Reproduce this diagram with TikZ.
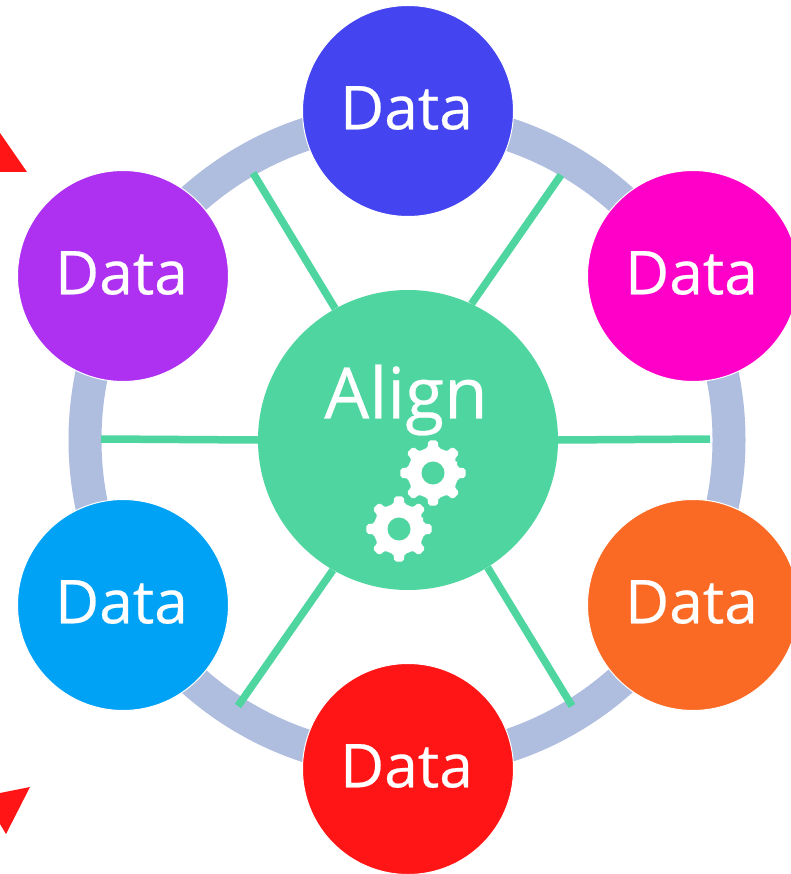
\documentclass[tikz,border=0pt]{standalone}
\usepackage{fontspec}
\setmainfont{Open Sans}
\newfontfamily\labelfont[FakeBold=0.35]{Open Sans}
\definecolor{spokegreen}{HTML}{4FD6A0}
\definecolor{ringblue}{HTML}{AFBDDF}
\definecolor{alertred}{HTML}{FF1515}
\definecolor{dtop}{HTML}{4444F0}
\definecolor{dpink}{HTML}{FF00C8}
\definecolor{dpurple}{HTML}{AE30F0}
\definecolor{dcyan}{HTML}{00A2F5}
\definecolor{dorange}{HTML}{FA6A24}
\tikzset{
  databub/.style={circle,draw=white,line width=1pt,minimum size=211pt,inner sep=0pt},
  datatext/.style={text=white,inner sep=0pt,font=\labelfont\fontsize{60.5}{60.5}\selectfont},
  spoke/.style={draw=spokegreen,line width=7.5pt},
  redtri/.style={fill=alertred},
  gearbody/.pic={
    \fill[white,rounded corners=2pt] (-22.5:26)
      \foreach \a in {0,45,...,315} { -- (\a-13:25) -- (\a-8:33) -- (\a+8:33) -- (\a+13:25) -- (\a+22.5:26) } -- cycle;
    \fill[spokegreen] (0,0) circle (11.5);
  }
}
\begin{document}
\begin{tikzpicture}[x=1pt,y=-1pt]
\useasboundingbox (0,0) rectangle (790,874);
\fill[white] (0,0) rectangle (790,874);
\fill[redtri] (0,133) -- (27,172) -- (0,172) -- cycle;
\fill[redtri] (30,787) -- (6,834) -- (0,824) -- (0,793) -- cycle;
\node[circle,draw=ringblue,line width=33pt,minimum size=644pt,inner sep=0pt] (ring) at (407,440) {};
\coordinate (e1) at (253,173);
\coordinate (e2) at (561,175);
\coordinate (e3) at (101,439);
\coordinate (e4) at (710,439);
\coordinate (e5) at (238,706);
\coordinate (e6) at (572,706);
\node[circle,fill=spokegreen,minimum size=300pt,inner sep=0pt] (align) at (408,440) {};
\node[text=white,font=\labelfont\fontsize{71}{71}\selectfont,inner sep=0pt] (alignlabel) at (406,400) {Align};
\draw[spoke] (e1) -- (align.119);
\draw[spoke] (e2) -- (align.65);
\draw[spoke] (e3) -- (align.180);
\draw[spoke] (e4) -- (align.0);
\draw[spoke] (e5) -- (align.240);
\draw[spoke] (e6) -- (align.302);
\node[databub,fill=dtop] (top) at (408,111) {};
\node[databub,fill=dpink] (rt) at (693,276) {};
\node[databub,fill=dpurple] (lt) at (123,276) {};
\node[databub,fill=dcyan] (lb) at (123,605) {};
\node[databub,fill=dorange] (rb) at (693,605) {};
\node[databub,fill=alertred] (bot) at (408,769) {};
\node[datatext] at ([shift={(-1.5pt,3pt)}]top.center) {Data};
\node[datatext] at ([shift={(-1.5pt,3pt)}]rt.center) {Data};
\node[datatext] at ([shift={(-1.5pt,3pt)}]lt.center) {Data};
\node[datatext] at ([shift={(-1.5pt,3pt)}]lb.center) {Data};
\node[datatext] at ([shift={(-1.5pt,3pt)}]rb.center) {Data};
\node[datatext] at ([shift={(-1.5pt,3pt)}]bot.center) {Data};
\pic at (433,473) {gearbody};
\pic at (399,529) {gearbody};
\end{tikzpicture}
\end{document}
